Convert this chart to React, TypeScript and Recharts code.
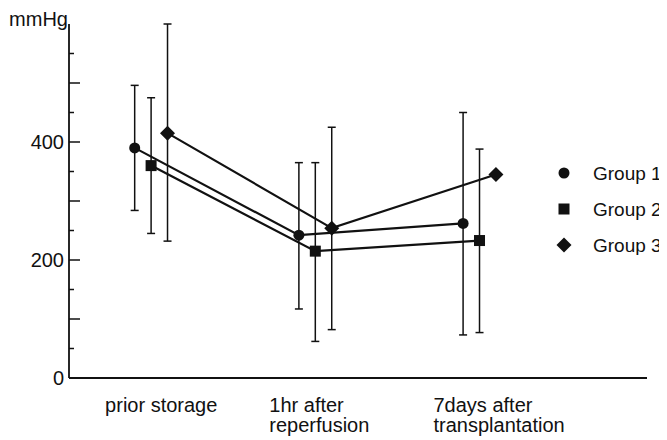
import React from 'react';
import { ScatterChart, Scatter, XAxis, YAxis, ErrorBar, Legend, Label } from 'recharts';

// time points (x categories)
const categories = [['prior storage'], ['1hr after', 'reperfusion'], ['7days after', 'transplantation']];
const groupNames = ['Group 1', 'Group 2', 'Group 3'];

// mean values (mmHg)
const group1Mean = [390, 242, 262];
const group2Mean = [360, 215, 233];
const group3Mean = [415, 254, 345];

// error bar ends (mmHg), null = no bar drawn
const group1High = [496, 365, 450];
const group1Low = [284, 117, 73];
const group2High = [475, 365, 388];
const group2Low = [245, 62, 77];
const group3High = [600, 425, null];
const group3Low = [232, 82, null];

const yTicks = [0, 50, 100, 150, 200, 250, 300, 350, 400, 450, 500, 550];
const yLabelled = [0, 200, 400];
const xTicks = [1, 2, 3];

const INK = '#111';
const FONT = '"Liberation Sans", Arial, Helvetica, sans-serif';
const groupOffset = [-0.1, 0, 0.1];

function buildSeries(mean: number[], high: (number | null)[], low: (number | null)[], g: number) {
  return mean.map((m, i) => ({
    x: i + 1 + groupOffset[g],
    y: m,
    err: high[i] == null || low[i] == null ? null : [m - (low[i] as number), (high[i] as number) - m],
  }));
}

const series = [
  buildSeries(group1Mean, group1High, group1Low, 0),
  buildSeries(group2Mean, group2High, group2Low, 1),
  buildSeries(group3Mean, group3High, group3Low, 2),
];

function Marker({ kind, cx, cy }: { kind: number; cx: number; cy: number }) {
  if (kind === 0) return <circle cx={cx} cy={cy} r={5.5} fill={INK} />;
  if (kind === 1) return <rect x={cx - 5.5} y={cy - 5.5} width={11} height={11} fill={INK} />;
  const d = 7.5;
  return <polygon points={`${cx},${cy - d} ${cx + d},${cy} ${cx},${cy + d} ${cx - d},${cy}`} fill={INK} />;
}

const YTick = (props: any) => {
  const { x, y, payload } = props;
  const v = payload.value;
  const len = v % 100 === 0 ? 11 : 5;
  return (
    <g>
      {v !== 0 && <line x1={x} y1={y} x2={x + len} y2={y} stroke={INK} strokeWidth={1.5} />}
      {yLabelled.includes(v) && (
        <text x={x - 5} y={y} dy="0.35em" textAnchor="end" fontSize={20} fontFamily={FONT} fill={INK}>
          {v}
        </text>
      )}
    </g>
  );
};

const XTick = (props: any) => {
  const { x, y, payload } = props;
  const lines = categories[payload.value - 1] || [];
  return (
    <text x={x - 46} y={y + 34} textAnchor="start" fontSize={20} fontFamily={FONT} fill={INK}>
      {lines.map((l, i) => (
        <tspan key={i} x={x - 46} dy={i === 0 ? 0 : 20}>
          {l}
        </tspan>
      ))}
    </text>
  );
};

const LegendBox = () => (
  <svg width={117} height={100}>
    {groupNames.map((name, i) => (
      <g key={name}>
        <Marker kind={i} cx={14} cy={18 + i * 36} />
        <text x={43} y={18 + i * 36} dy="0.35em" fontSize={19} fontFamily={FONT} fill={INK}>
          {name}
        </text>
      </g>
    ))}
  </svg>
);

export default function App() {
  return (
    <div style={{ margin: '-8px 0 0 -8px', width: 667, height: 440, background: '#fff' }}>
      <ScatterChart width={667} height={440} margin={{ top: 24, right: 20, bottom: 0, left: 0 }}>
        <XAxis
          type="number"
          dataKey="x"
          domain={[0.5, 4.02]}
          ticks={xTicks}
          height={62}
          tickLine={false}
          tickSize={0}
          tickMargin={0}
          tick={<XTick />}
          axisLine={{ stroke: INK, strokeWidth: 1.8 }}
        />
        <YAxis
          type="number"
          dataKey="y"
          domain={[0, 600]}
          ticks={yTicks}
          width={69}
          tickLine={false}
          tickSize={0}
          tickMargin={0}
          tick={<YTick />}
          axisLine={{ stroke: INK, strokeWidth: 1.8 }}
        >
          <Label
            content={({ viewBox }: any) => (
              <text
                x={viewBox.x + viewBox.width - 1}
                y={viewBox.y + 2}
                textAnchor="end"
                fontSize={20}
                fontFamily={FONT}
                fill={INK}
              >
                mmHg
              </text>
            )}
          />
        </YAxis>
        {series.map((data, g) => (
          <Scatter
            key={groupNames[g]}
            name={groupNames[g]}
            data={data}
            fill={INK}
            line={{ stroke: INK, strokeWidth: 2.2 }}
            lineType="joint"
            isAnimationActive={false}
            shape={(p: any) => <Marker kind={g} cx={p.cx} cy={p.cy} />}
          >
            <ErrorBar dataKey="err" direction="y" width={4} stroke={INK} strokeWidth={1.5} />
          </Scatter>
        ))}
        <Legend
          layout="vertical"
          align="center"
          verticalAlign="middle"
          wrapperStyle={{ left: 550, top: 155, width: 117 }}
          content={() => <LegendBox />}
        />
      </ScatterChart>
    </div>
  );
}
